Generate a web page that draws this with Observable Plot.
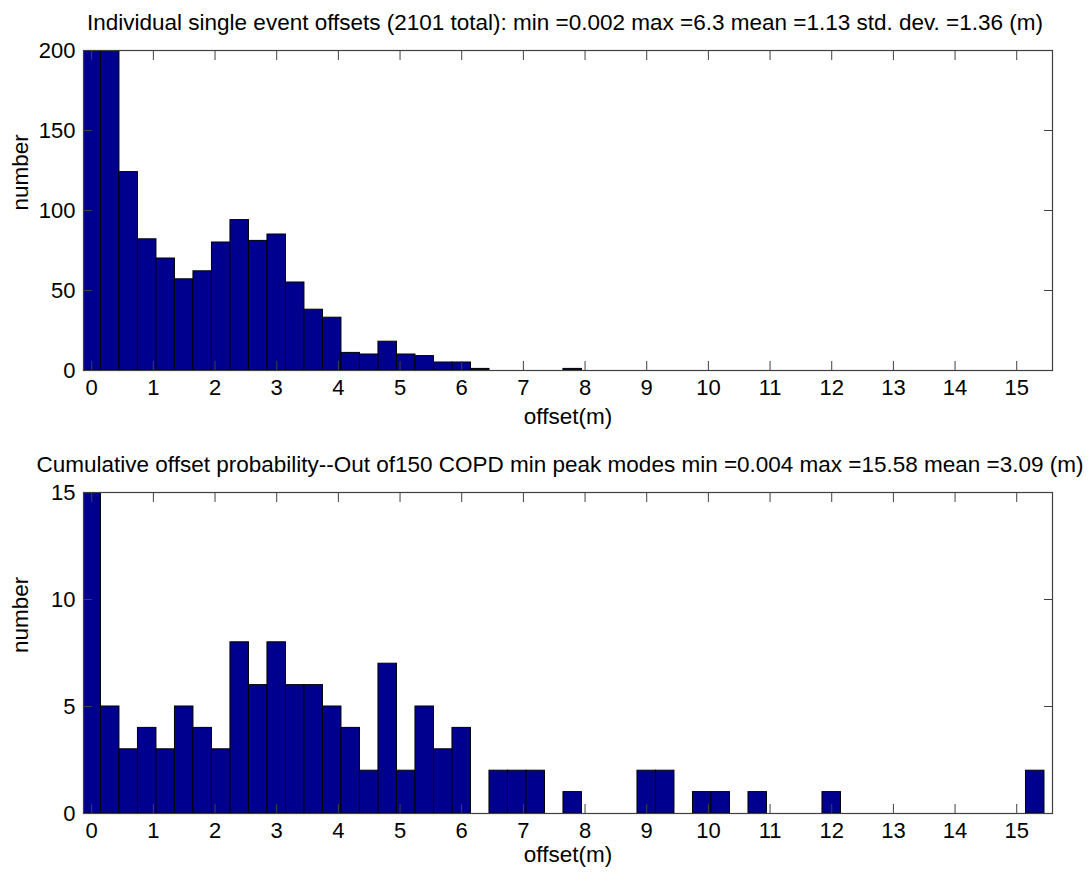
<!DOCTYPE html>
<html><head><meta charset="utf-8">
<script src="https://cdn.jsdelivr.net/npm/d3@7"></script>
<script src="https://cdn.jsdelivr.net/npm/@observablehq/plot@0.6"></script>
<style>
html,body{margin:0;padding:0;background:#fff;}
svg{display:block;}
</style>
</head><body><div id="chart"></div>
<script>
// Bin centres (m), bin width 0.3 m
const binCenters = [0,0.3,0.6,0.9,1.2,1.5,1.8,2.1,2.4,2.7,3.0,3.3,3.6,3.9,4.2,4.5,4.8,5.1,5.4,5.7,6.0,6.3,6.6,6.9,7.2,7.5,7.8,8.1,8.4,8.7,9.0,9.3,9.6,9.9,10.2,10.5,10.8,11.1,11.4,11.7,12.0,12.3,12.6,12.9,13.2,13.5,13.8,14.1,14.4,14.7,15.0,15.3];
const binWidth = 0.3;

// Top panel: individual single event offsets (first two bins exceed the 200 limit)
const singleCounts = [520,650,124,82,70,57,62,80,94,81,85,55,38,33,11,10,18,10,9,5,5,1,0,0,0,0,1,0,0,0,0,0,0,0,0,0,0,0,0,0,0,0,0,0,0,0,0,0,0,0,0,0];
// Bottom panel: cumulative offset probability peak modes (first bin exceeds 15)
const peakCounts = [40,5,3,4,3,5,4,3,8,6,8,6,6,5,4,2,7,2,5,3,4,0,2,2,2,0,1,0,0,0,2,2,0,1,1,0,1,0,0,0,1,0,0,0,0,0,0,0,0,0,0,2];

const xTicks = [0,1,2,3,4,5,6,7,8,9,10,11,12,13,14,15];
const xDomain = [-0.133, 15.58];
const topYTicks = [0,50,100,150,200];
const bottomYTicks = [0,5,10,15];
const topTitle = "Individual single event offsets (2101 total): min =0.002 max =6.3 mean =1.13 std. dev. =1.36 (m)";
const bottomTitle = "Cumulative offset probability--Out of150 COPD min peak modes min =0.004 max =15.58 mean =3.09 (m)";
const xLabel = "offset(m)";
const yLabel = "number";

const barFill = "#00008f";
const axisColor = "#404040";
const FONT = "'Liberation Sans', Arial, Helvetica, sans-serif";

function panel({counts, yDomain, yTicks, title, height, marginTop, marginBottom, titleDy, titleDx, xLabelDy}) {
  const data = binCenters.map((c, i) => ({c, n: counts[i]}));
  return Plot.plot({
    width: 1091, height,
    marginLeft: 83, marginRight: 39, marginTop, marginBottom,
    style: {fontFamily: FONT, fontSize: "22px", color: "black", background: "white", overflow: "visible"},
    x: {domain: xDomain},
    y: {domain: yDomain},
    marks: [
      Plot.rect(data, {x1: d => d.c - binWidth / 2, x2: d => d.c + binWidth / 2, y1: 0, y2: "n",
        fill: barFill, stroke: "black", strokeWidth: 1, clip: true}),
      Plot.frame({stroke: axisColor, strokeWidth: 1.2}),
      Plot.axisX({anchor: "bottom", ticks: xTicks, tickSize: -9, tickPadding: 18, label: null, stroke: axisColor, fill: "black", fontSize: 22}),
      Plot.axisX({anchor: "top", ticks: xTicks, tickSize: -9, tickFormat: () => "", label: null, stroke: axisColor}),
      Plot.axisY({anchor: "left", ticks: yTicks, tickSize: -9, tickPadding: 17, label: null, stroke: axisColor, fill: "black", fontSize: 22}),
      Plot.axisY({anchor: "right", ticks: yTicks, tickSize: -9, tickFormat: () => "", label: null, stroke: axisColor}),
      Plot.text([title], {text: d => d, frameAnchor: "top", dy: titleDy, dx: titleDx, fontSize: 22.5, fill: "black"}),
      Plot.text([xLabel], {text: d => d, frameAnchor: "bottom", dy: xLabelDy, fontSize: 22.5, fill: "black"}),
      Plot.text([yLabel], {text: d => d, frameAnchor: "left", dx: -63, rotate: -90, fontSize: 22.5, fill: "black"})
    ]
  });
}

const root = document.getElementById("chart");
root.appendChild(panel({counts: singleCounts, yDomain: [0, 200], yTicks: topYTicks, title: topTitle,
  height: 440, marginTop: 50, marginBottom: 70, titleDy: -36, titleDx: -3, xLabelDy: 53}));
root.appendChild(panel({counts: peakCounts, yDomain: [0, 15], yTicks: bottomYTicks, title: bottomTitle,
  height: 432, marginTop: 52, marginBottom: 59, titleDy: -36, titleDx: -8, xLabelDy: 48}));
</script>
</body></html>
